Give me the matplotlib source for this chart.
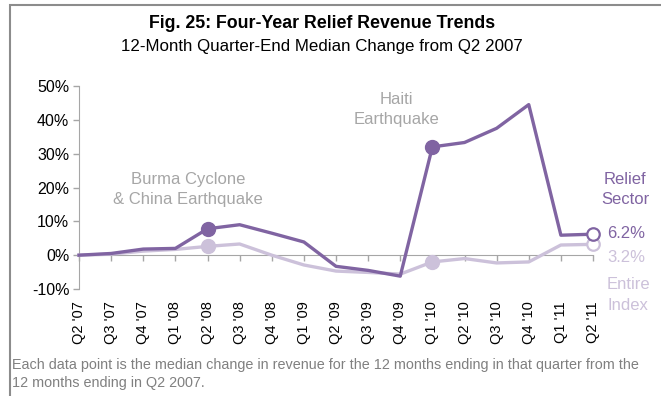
import matplotlib.pyplot as plt
from matplotlib.patches import Rectangle
from matplotlib.ticker import FuncFormatter

plt.rcParams['font.family'] = ['Liberation Sans', 'DejaVu Sans']

quarters = ["Q2 '07", "Q3 '07", "Q4 '07", "Q1 '08", "Q2 '08", "Q3 '08",
            "Q4 '08", "Q1 '09", "Q2 '09", "Q3 '09", "Q4 '09", "Q1 '10",
            "Q2 '10", "Q3 '10", "Q4 '10", "Q1 '11", "Q2 '11"]
relief = [0.0, 0.5, 1.8, 2.0, 7.8, 9.0, 6.5, 3.9, -3.3, -4.5, -6.2,
          32.0, 33.3, 37.5, 44.5, 5.9, 6.2]
index_all = [0.0, 0.3, 1.2, 1.7, 2.6, 3.3, 0.0, -2.9, -4.7, -5.1, -5.6,
             -2.0, -1.0, -2.3, -2.0, 3.0, 3.2]
events = [4, 11]  # quarters with a disaster marker
yticks = [-10, 0, 10, 20, 30, 40, 50]

purple = '#8064a2'
lilac = '#ccc1da'
grey_txt = '#a6a6a6'
axis_col = '#a6a6a6'

fig = plt.figure(figsize=(6.61, 3.96), dpi=100)
ax = fig.add_axes([79/661, 1 - 289/396, (593 - 79)/661, (289 - 86)/396])

x = list(range(len(quarters)))
ax.plot(x, index_all, color=lilac, lw=2.4, clip_on=False, zorder=3)
ax.plot(x, relief, color=purple, lw=2.4, clip_on=False, zorder=4)

# filled markers on the disaster quarters
ax.plot(events, [index_all[i] for i in events], 'o', color=lilac, ms=10,
        zorder=3, clip_on=False)
ax.plot(events, [relief[i] for i in events], 'o', color=purple, ms=10,
        zorder=4, clip_on=False)
# open markers on the latest quarter
ax.plot(x[-1], index_all[-1], 'o', mfc='white', mec=lilac, mew=1.6, ms=9,
        zorder=5, clip_on=False)
ax.plot(x[-1], relief[-1], 'o', mfc='white', mec=purple, mew=1.6, ms=9,
        zorder=6, clip_on=False)

ax.set_xlim(0, 16)
ax.set_ylim(-10, 50)
ax.set_yticks(yticks)
ax.yaxis.set_major_formatter(FuncFormatter(lambda v, p: f'{v:.0f}%'))
ax.set_xticks(x)
ax.tick_params(axis='x', labelbottom=False, direction='out', length=4,
               color=axis_col, width=1)
ax.tick_params(axis='y', direction='out', length=4, color=axis_col, width=1,
               labelsize=11.5, pad=3)
for s in ['top', 'right']:
    ax.spines[s].set_visible(False)
ax.spines['bottom'].set_position(('data', 0))
ax.spines['bottom'].set_color(axis_col)
ax.spines['left'].set_color(axis_col)
ax.spines['bottom'].set_zorder(2)

sec = ax.secondary_xaxis('bottom')
sec.set_xticks(x, quarters, rotation=90, fontsize=10.5)
sec.tick_params(length=0, pad=9)
sec.spines['bottom'].set_visible(False)

# event and series annotations
ax.text(3.4, 19.4, 'Burma Cyclone\n& China Earthquake', ha='center',
        va='center', fontsize=12, color=grey_txt, linespacing=1.45)
ax.text(9.87, 43.0, 'Haiti\nEarthquake', ha='center', va='center',
        fontsize=12, color=grey_txt, linespacing=1.45)
ax.text(17.0, 19.4, 'Relief\nSector', ha='center', va='center', fontsize=12,
        color=purple, linespacing=1.45, clip_on=False)
ax.text(16.45, relief[-1] + 0.3, f'{relief[-1]:.1f}%', ha='left',
        va='center', fontsize=12, color=purple, clip_on=False)
ax.text(16.45, -0.6, f'{index_all[-1]:.1f}%', ha='left', va='center',
        fontsize=12, color=lilac, clip_on=False)
ax.text(17.1, -11.8, 'Entire\nIndex', ha='center', va='center', fontsize=12,
        color=lilac, linespacing=1.45, clip_on=False)

fig.text(322/661, 1 - 24/396, 'Fig. 25: Four-Year Relief Revenue Trends',
         ha='center', va='center', fontsize=12.8, fontweight='bold')
fig.text(322/661, 1 - 46/396, '12-Month Quarter-End Median Change from Q2 2007',
         ha='center', va='center', fontsize=12.2)
fig.text(12/661, 1 - 374/396,
         'Each data point is the median change in revenue for the 12 months '
         'ending in that quarter from the\n12 months ending in Q2 2007.',
         ha='left', va='center', fontsize=10.4, color='#808080',
         linespacing=1.35)

fig.add_artist(Rectangle((10/661, -0.1), 1.2, 1.1 - 5/396,
                         transform=fig.transFigure, fill=False,
                         ec='#8c8c8c', lw=1.5))

fig.savefig('out.png', dpi=100)
